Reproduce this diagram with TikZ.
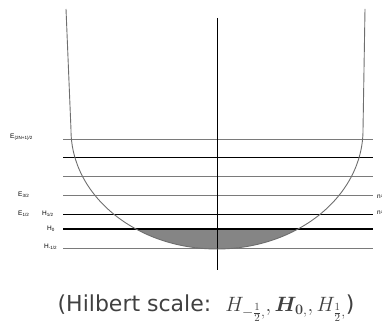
\documentclass[tikz,border=0pt]{standalone}
\usepackage{fontspec}
\usepackage{amsmath}
\usepackage{bm}
\usetikzlibrary{positioning}
\newfontfamily\lblfont{Liberation Sans}
\newfontfamily\capfont{DejaVu Sans}
\definecolor{wallgray}{HTML}{6E6E6E}
\definecolor{lvlgray}{HTML}{7A7A7A}
\definecolor{fillgray}{HTML}{858585}
\tikzset{
  blevel/.style={line width=0.8pt, draw=black},
  glevel/.style={line width=0.8pt, draw=lvlgray},
  thklevel/.style={line width=1.6pt, draw=black},
  lbl/.style={font=\lblfont\fontsize{6.5}{7}\selectfont, inner sep=0pt, anchor=west},
  every picture/.style={line cap=butt, line join=round}
}

\begin{document}
\begin{tikzpicture}[x=1pt,y=-1pt]
    \useasboundingbox (0,0) rectangle (382,336);

    \begin{scope}
      \clip (60,229) rectangle (380,260);
      \fill[fillgray] (217,130) ellipse[x radius=146, y radius=119];
    \end{scope}

    \foreach \yy/\st in {139/glevel, 157/blevel, 176/glevel, 195/glevel, 214/blevel, 248/glevel}
      \draw[\st] (63,\yy) -- (373,\yy);
    \draw[thklevel] (63,229) -- (373,229);

    \draw[line width=0.8pt] (217,18) -- (217,270);

    \draw[wallgray, line width=0.9pt] (66,9) -- (71,130)
      arc[start angle=180, end angle=0, x radius=146, y radius=119] -- (365,9);

    \node[lbl] (e2n) at (10,137) {E\textsubscript{(2N+1)/2}};
    \node[lbl] (e32) at (18,195) {E\textsubscript{3/2}};
    \node[lbl] (e12) at (18,214) {E\textsubscript{1/2}};
    \node[lbl] (h12) at (42,214) {H\textsubscript{1/2}};
    \node[lbl] (h0) at (47,229) {H\textsubscript{0}};
    \node[lbl] (hm12) at (44,247) {H\textsubscript{-1/2}};
    \node[lbl] (n1) at (377,196) {n=1};
    \node[lbl] (n0) at (377,212) {n=0};

    \node[font=\capfont\fontsize{22}{26}\selectfont, text=black!75, inner sep=0pt] (cap) at (206,308)
      {(Hilbert scale:\ \ $H_{-\frac{1}{2},},\bm{H}_{\bm{0},},H_{\frac{1}{2},}$)};
\end{tikzpicture}
\end{document}
